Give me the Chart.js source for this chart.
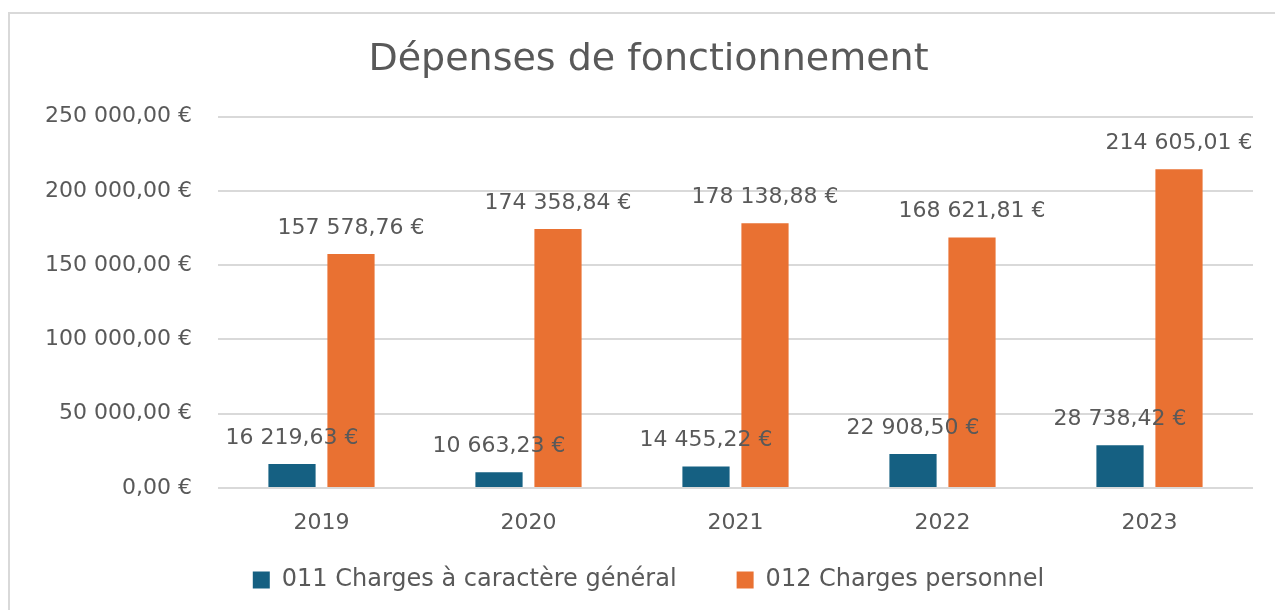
<!DOCTYPE html>
<html>
<head>
<meta charset="utf-8">
<script src="https://cdn.jsdelivr.net/npm/chart.js@4"></script>
<style>
  body { margin: 0; overflow: hidden; background: #fff; }
  #frame { position: absolute; left: 8px; top: 12px; width: 1400px; height: 800px; border: 2px solid #d9d9d9; }
  #wrap { position: absolute; left: 0; top: 0; width: 1275px; height: 610px; }
</style>
</head>
<body>
<div id="frame"></div>
<div id="wrap"><canvas id="chart"></canvas></div>
<script>
const years = ['2019', '2020', '2021', '2022', '2023'];
const charges011 = [16219.63, 10663.23, 14455.22, 22908.50, 28738.42];
const charges012 = [157578.76, 174358.84, 178138.88, 168621.81, 214605.01];
const seriesNames = ['011 Charges à caractère général', '012 Charges personnel'];

const textColor = '#595959';
const fontFamily = '"DejaVu Sans", sans-serif';

function euro(v) {
    const parts = v.toFixed(2).split('.');
    const ent = parts[0].replace(/\B(?=(\d{3})+(?!\d))/g, ' ');
    return ent + ',' + parts[1] + ' €';
}

// etiquettes au-dessus des barres
const valueLabels = {
    id: 'valueLabels',
    afterDatasetsDraw(chart) {
        const ctx = chart.ctx;
        ctx.save();
        ctx.font = '22px ' + fontFamily;
        ctx.fillStyle = textColor;
        ctx.textAlign = 'center';
        ctx.textBaseline = 'middle';
        chart.data.datasets.forEach((ds, i) => {
            chart.getDatasetMeta(i).data.forEach((bar, j) => {
                ctx.fillText(euro(ds.data[j]), bar.x, bar.y - 26);
            });
        });
        ctx.restore();
    }
};

const data = {
    labels: years,
    datasets: [{
        label: seriesNames[0],
        data: charges011,
        backgroundColor: '#156082',
        categoryPercentage: 0.57,
        barPercentage: 0.8
    }, {
        label: seriesNames[1],
        data: charges012,
        backgroundColor: '#E97132',
        categoryPercentage: 0.57,
        barPercentage: 0.8
    }]
};

const config = {
    type: 'bar',
    data: data,
    plugins: [valueLabels],
    options: {
        responsive: false,
        animation: false,
        layout: { padding: { left: 44, right: 22, top: 16, bottom: 8 } },
        plugins: {
            title: {
                display: true,
                text: 'Dépenses de fonctionnement',
                color: textColor,
                font: { family: fontFamily, size: 38, weight: 'normal' },
                padding: { top: 21, bottom: 34 }
            },
            legend: {
                position: 'bottom',
                labels: {
                    color: textColor,
                    font: { family: fontFamily, size: 24 },
                    boxWidth: 17,
                    boxHeight: 17,
                    padding: 60
                }
            },
            tooltip: { enabled: false }
        },
        scales: {
            x: {
                grid: { display: false },
                border: { display: false },
                ticks: { color: textColor, font: { family: fontFamily, size: 22 }, padding: -48, mirror: true },
                afterFit(scale) { scale.height = 20; }
            },
            y: {
                min: 0,
                max: 250000,
                ticks: {
                    stepSize: 50000,
                    color: textColor,
                    font: { family: fontFamily, size: 22 },
                    padding: 26,
                    callback: (v) => euro(v)
                },
                grid: { color: '#d9d9d9', lineWidth: 2, drawTicks: false },
                border: { display: false },
                afterFit(scale) { scale.width = 174; }
            }
        }
    }
};

const el = document.getElementById('chart');
el.width = 1275;
el.height = 610;
const myChart = new Chart(el, config);
</script>
</body>
</html>
